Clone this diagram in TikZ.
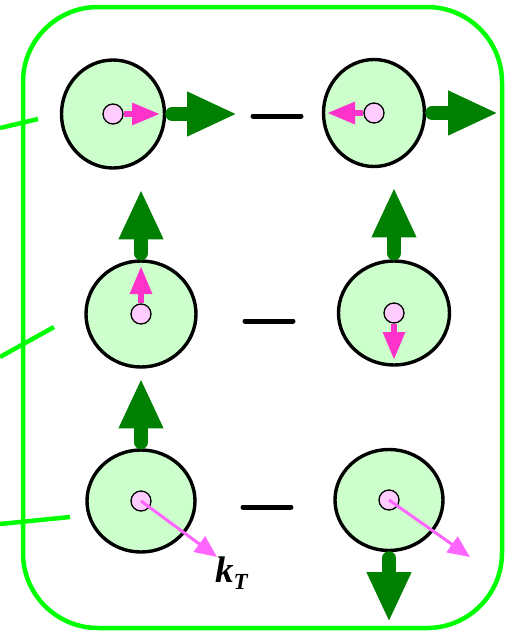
\documentclass[tikz,border=0pt]{standalone}
\usepackage{fontspec}
\setmainfont{Liberation Serif}
\usetikzlibrary{arrows.meta,shapes.geometric}
\definecolor{frame}{RGB}{0,255,0}
\definecolor{disc}{RGB}{204,255,204}
\definecolor{core}{RGB}{255,204,255}
\definecolor{spin}{RGB}{255,51,204}
\definecolor{kt}{RGB}{255,102,255}
\definecolor{mom}{RGB}{0,128,0}
\begin{document}
\begin{tikzpicture}[x=1pt,y=-1pt,
  disk/.style={ellipse,draw=black,line width=3.4pt,fill=disc,inner sep=0pt},
  dot/.style={circle,draw=black,line width=1.3pt,fill=core,inner sep=0pt,minimum size=20pt},
  spinarrow/.style={draw=spin,line width=6pt,-{Triangle[length=28pt,width=21pt]}},
  ktarrow/.style={draw=kt,line width=3pt,-{Triangle[length=22pt,width=19pt]}},
  momarrow/.style={draw=mom,line width=14pt,line cap=round,-{Triangle[length=50pt,width=41pt]}},
  bar/.style={draw=black,line width=5pt,line cap=round},
  lead/.style={draw=frame,line width=4.5pt}]
\useasboundingbox (0,0) rectangle (513,633);

% outer frame
\draw[frame,line width=4.5pt,rounded corners=75pt] (23,7) rectangle (502,628);

% leader lines on the left
\draw[lead] (0,128) -- (38,119);
\draw[lead] (0,357) -- (54,327);
\draw[lead] (0,524) -- (70,517);

% discs
\node[disk,minimum width=103pt,minimum height=108pt] (c11) at (113,114) {};
\node[disk,minimum width=101pt,minimum height=107pt] (c12) at (374,113) {};
\node[disk,minimum width=110pt,minimum height=106pt] (c21) at (141,314) {};
\node[disk,minimum width=111pt,minimum height=104pt] (c22) at (394,313) {};
\node[disk,minimum width=108pt,minimum height=102pt] (c31) at (141,501) {};
\node[disk,minimum width=108pt,minimum height=101pt] (c32) at (389,500) {};

% momentum arrows
\draw[momarrow] ([xshift=6pt]c11.east) -- ([xshift=71pt]c11.east);
\draw[momarrow] ([xshift=6pt]c12.east) -- ([xshift=72pt]c12.east);
\draw[momarrow] ([yshift=6pt]c21.north) -- ([yshift=70pt]c21.north);
\draw[momarrow] ([yshift=6pt]c22.north) -- ([yshift=72pt]c22.north);
\draw[momarrow] ([yshift=6pt]c31.north) -- ([yshift=70pt]c31.north);
\draw[momarrow] ([yshift=-6pt]c32.south) -- ([yshift=-70pt]c32.south);

% cores
\node[dot] (p11) at (c11) {};
\node[dot] (p12) at (c12) {};
\node[dot] (p21) at (c21) {};
\node[dot] (p22) at (c22) {};
\node[dot] (p31) at (c31) {};
\node[dot] (p32) at (c32) {};

% spin arrows
\coordinate (s11) at (160,114);
\coordinate (s12) at (327,113);
\coordinate (s21) at (141,266);
\coordinate (s22) at (394,360);
\draw[spinarrow] (p11.east) -- (s11);
\draw[spinarrow] (p12.west) -- (s12);
\draw[spinarrow] (p21.north) -- (s21);
\draw[spinarrow] (p22.south) -- (s22);

% transverse momentum arrows
\coordinate (k31) at (217,557);
\coordinate (k32) at (470,557);
\draw[ktarrow] (p31.center) -- (k31);
\draw[ktarrow] (p32.center) -- (k32);

% dashes between the pairs
\draw[bar] (253,116) -- (301,116);
\draw[bar] (245,321) -- (293,321);
\draw[bar] (243,507) -- (291,507);

% label
\node[anchor=base west,inner sep=0pt,font=\fontsize{37}{37}\selectfont\bfseries\itshape] (lab) at (215,582)
  {k\raisebox{-7pt}{\fontsize{23}{23}\selectfont T}};
\end{tikzpicture}
\end{document}
